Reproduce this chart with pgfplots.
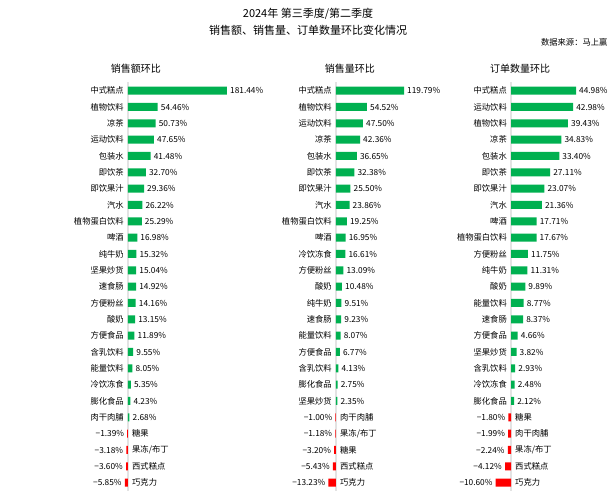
\documentclass[border=0pt]{standalone}
\usepackage{pgfplots}
\usepackage{pgfplotstable}
\pgfplotsset{compat=1.18}
\usepackage{fontspec}
\setmainfont{Noto Sans CJK SC}
\definecolor{bargreen}{HTML}{00B050}
\definecolor{barred}{HTML}{FF0000}
\definecolor{zeroline}{HTML}{E3E3E3}
\newcommand\valfont{\fontsize{8.3}{10}\selectfont}
\newcommand\namefont{\fontsize{8.3}{10}\selectfont}

% ---------- 销售额环比 ----------
\pgfplotstableread[col sep=comma]{
idx,val,name
0,181.44,中式糕点
1,54.46,植物饮料
2,50.73,凉茶
3,47.65,运动饮料
4,41.48,包装水
5,32.70,即饮茶
6,29.36,即饮果汁
7,26.22,汽水
8,25.29,植物蛋白饮料
9,16.98,啤酒
10,15.32,纯牛奶
11,15.04,坚果炒货
12,14.92,速食肠
13,14.16,方便粉丝
14,13.15,酸奶
15,11.89,方便食品
16,9.55,含乳饮料
17,8.05,能量饮料
18,5.35,冷饮冻食
19,4.23,膨化食品
20,2.68,肉干肉脯
}\tabApos
\pgfplotstableread[col sep=comma]{
idx,val,name
21,-1.39,糖果
22,-3.18,果冻/布丁
23,-3.60,西式糕点
24,-5.85,巧克力
}\tabAneg

% ---------- 销售量环比 ----------
\pgfplotstableread[col sep=comma]{
idx,val,name
0,119.79,中式糕点
1,54.52,植物饮料
2,47.50,运动饮料
3,42.36,凉茶
4,36.65,包装水
5,32.38,即饮茶
6,25.50,即饮果汁
7,23.86,汽水
8,19.25,植物蛋白饮料
9,16.95,啤酒
10,16.61,冷饮冻食
11,13.09,方便粉丝
12,10.48,酸奶
13,9.51,纯牛奶
14,9.23,速食肠
15,8.07,能量饮料
16,6.77,方便食品
17,4.13,含乳饮料
18,2.75,膨化食品
19,2.35,坚果炒货
}\tabBpos
\pgfplotstableread[col sep=comma]{
idx,val,name
20,-1.00,肉干肉脯
21,-1.18,果冻/布丁
22,-3.20,糖果
23,-5.43,西式糕点
24,-13.23,巧克力
}\tabBneg

% ---------- 订单数量环比 ----------
\pgfplotstableread[col sep=comma]{
idx,val,name
0,44.98,中式糕点
1,42.98,运动饮料
2,39.43,植物饮料
3,34.83,凉茶
4,33.40,包装水
5,27.11,即饮茶
6,23.07,即饮果汁
7,21.36,汽水
8,17.71,啤酒
9,17.67,植物蛋白饮料
10,11.75,方便粉丝
11,11.31,纯牛奶
12,9.89,酸奶
13,8.77,能量饮料
14,8.37,速食肠
15,4.66,方便食品
16,3.82,坚果炒货
17,2.93,含乳饮料
18,2.48,冷饮冻食
19,2.12,膨化食品
}\tabCpos
\pgfplotstableread[col sep=comma]{
idx,val,name
20,-1.80,糖果
21,-1.99,肉干肉脯
22,-2.24,果冻/布丁
23,-4.12,西式糕点
24,-10.60,巧克力
}\tabCneg

\pgfplotsset{
  panel/.style={
    scale only axis, clip=false,
    anchor=south west,
    ymin=-0.5, ymax=24.5, y dir=reverse,
    height=408.3pt,
    axis x line=none, axis y line=middle,
    y axis line style={-, draw=zeroline, line width=1.2pt},
    xtick=\empty, ytick=\empty,
    title style={font=\fontsize{10}{12}\selectfont, anchor=south, inner sep=0pt, yshift=2.5pt},
  },
  posbar/.style={xbar, bar width=8pt, bar shift=0pt, fill=bargreen, draw=none,
    point meta=x,
    nodes near coords={\pgfmathprintnumber[fixed,fixed zerofill,precision=2,assume math mode=true]{\pgfplotspointmeta}\%},
    nodes near coords style={anchor=west, inner sep=0pt, xshift=3pt, font=\valfont, text=black}},
  negbar/.style={xbar, bar width=8pt, bar shift=0pt, fill=barred, draw=none,
    point meta={-\thisrow{val}},
    nodes near coords={−\pgfmathprintnumber[fixed,fixed zerofill,precision=2,assume math mode=true]{\pgfplotspointmeta}\%},
    nodes near coords style={anchor=east, inner sep=0pt, xshift=-3pt, font=\valfont, text=black}},
  posname/.style={draw=none, mark=none, forget plot, point meta=explicit symbolic,
    nodes near coords, nodes near coords style={anchor=east, inner sep=0pt, xshift=-4pt, font=\namefont, text=black}},
  negname/.style={draw=none, mark=none, forget plot, point meta=explicit symbolic,
    nodes near coords, nodes near coords style={anchor=west, inner sep=0pt, xshift=4pt, font=\namefont, text=black}},
}

\begin{document}
\begin{tikzpicture}
\path[use as bounding box] (0,0) rectangle (616pt,500pt);

\node[font=\fontsize{11}{13}\selectfont] at (308pt,486.5pt) {2024年 第三季度/第二季度};
\node[font=\fontsize{11}{13}\selectfont] at (308pt,470pt) {销售额、销售量、订单数量环比变化情况};
\node[font=\fontsize{8.3}{10}\selectfont, anchor=east] at (611pt,457.5pt) {数据来源：马上赢};

% Panel 1
\begin{axis}[panel, at={(122.54pt,9.2pt)}, width=106.4pt, xmin=-10, xmax=185,
  title={销售额环比}, title style={at={(0.1265,1)}}]
\addplot[posbar] table[x=val, y=idx] {\tabApos};
\addplot[negbar] table[x=val, y=idx] {\tabAneg};
\addplot[posname] table[x expr=0, y=idx, meta=name] {\tabApos};
\addplot[negname] table[x expr=0, y=idx, meta=name] {\tabAneg};
\end{axis}

% Panel 2
\begin{axis}[panel, at={(327.48pt,9.2pt)}, width=79.48pt, xmin=-15, xmax=125,
  title={销售量环比}, title style={at={(0.283,1)}}]
\addplot[posbar] table[x=val, y=idx] {\tabBpos};
\addplot[negbar] table[x=val, y=idx] {\tabBneg};
\addplot[posname] table[x expr=0, y=idx, meta=name] {\tabBpos};
\addplot[negname] table[x expr=0, y=idx, meta=name] {\tabBneg};
\end{axis}

% Panel 3
\begin{axis}[panel, at={(493.66pt,9.2pt)}, width=85.26pt, xmin=-12, xmax=47,
  title={订单数量环比}, title style={at={(0.309,1)}}]
\addplot[posbar] table[x=val, y=idx] {\tabCpos};
\addplot[negbar] table[x=val, y=idx] {\tabCneg};
\addplot[posname] table[x expr=0, y=idx, meta=name] {\tabCpos};
\addplot[negname] table[x expr=0, y=idx, meta=name] {\tabCneg};
\end{axis}
\end{tikzpicture}
\end{document}
